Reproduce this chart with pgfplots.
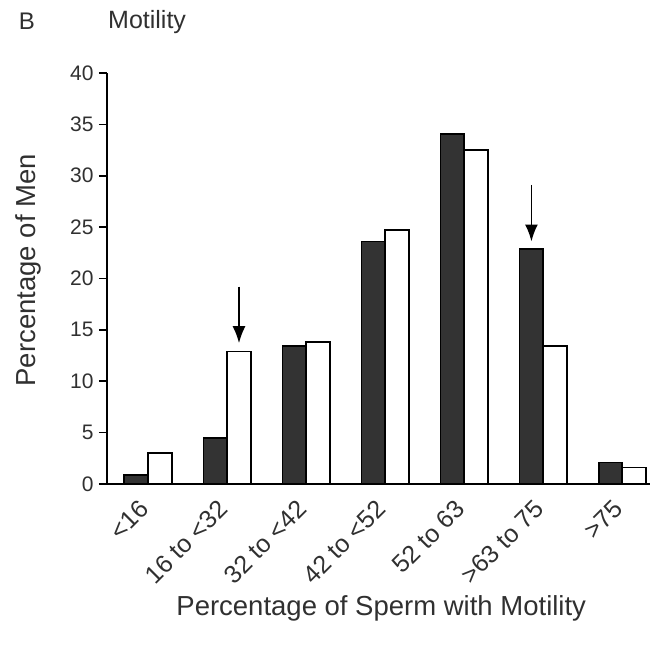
\documentclass[border=0pt]{standalone}
\usepackage{pgfplots}
\pgfplotsset{compat=1.18}
\usepackage{fontspec}
\setmainfont{Liberation Sans}
\usetikzlibrary{arrows.meta}
\definecolor{txt}{HTML}{303030}
\definecolor{darkbar}{HTML}{333333}
\begin{document}
\begin{tikzpicture}[x=1pt,y=1pt]
\path[use as bounding box] (-107,-168) rectangle (543,484);
\node[anchor=center, text=txt, font=\fontsize{24}{24}\selectfont] at (-80,463) {B};
\node[anchor=base west, inner sep=0pt, text=txt, font=\fontsize{25}{25}\selectfont] at (1,455) {Motility};
\begin{axis}[
  at={(0,0)}, anchor=south west, scale only axis,
  width=543pt, height=411pt,
  xmin=-0.52, xmax=6.35, ymin=0, ymax=40,
  axis x line=bottom, axis y line=left,
  axis line style={-, line width=1.6pt, black},
  ytick={0,5,...,40},
  ytick style={line width=1.6pt, black},
  tick align=outside, major tick length=8pt,
  xtick={0,...,6},
  xtick style={draw=none},
  xticklabels={{<16},{16 to <32},{32 to <42},{42 to <52},{52 to 63},{>63 to 75},{>75}},
  x tick label style={xshift=-10pt, yshift=-5pt, rotate=45, anchor=north east, inner sep=1pt, font=\fontsize{25}{25}\selectfont},
  /pgf/number format/assume math mode=true,
  tick label style={text=txt},
  y tick label style={xshift=-2pt, font=\fontsize{21}{21}\selectfont},
  xlabel={Percentage of Sperm with Motility},
  ylabel={Percentage of Men},
  label style={text=txt, font=\fontsize{27.5}{27.5}\selectfont},
  xlabel style={at={(axis description cs:0.505,0)}, anchor=base, yshift=-131pt},
  ylabel style={at={(axis description cs:0,0.52)}, anchor=base, yshift=71pt},
  clip=false,
]
\addplot[ybar, bar width=0.3, bar shift=-0.15, fill=darkbar, draw=black, line width=1.8pt]
  coordinates {(0,0.9) (1,4.5) (2,13.4) (3,23.6) (4,34.1) (5,22.9) (6,2.1)};
\addplot[ybar, bar width=0.3, bar shift=0.15, fill=white, draw=black, line width=1.8pt]
  coordinates {(0,3.0) (1,12.9) (2,13.8) (3,24.7) (4,32.5) (5,13.4) (6,1.6)};
\draw[line width=1.8pt, -{Latex[length=17pt, width=13pt]}] (axis cs:1.15,19.2) -- (axis cs:1.15,13.7);
\draw[line width=1.8pt, -{Latex[length=17pt, width=13pt]}] (axis cs:4.85,29.1) -- (axis cs:4.85,23.6);
\end{axis}
\end{tikzpicture}
\end{document}
